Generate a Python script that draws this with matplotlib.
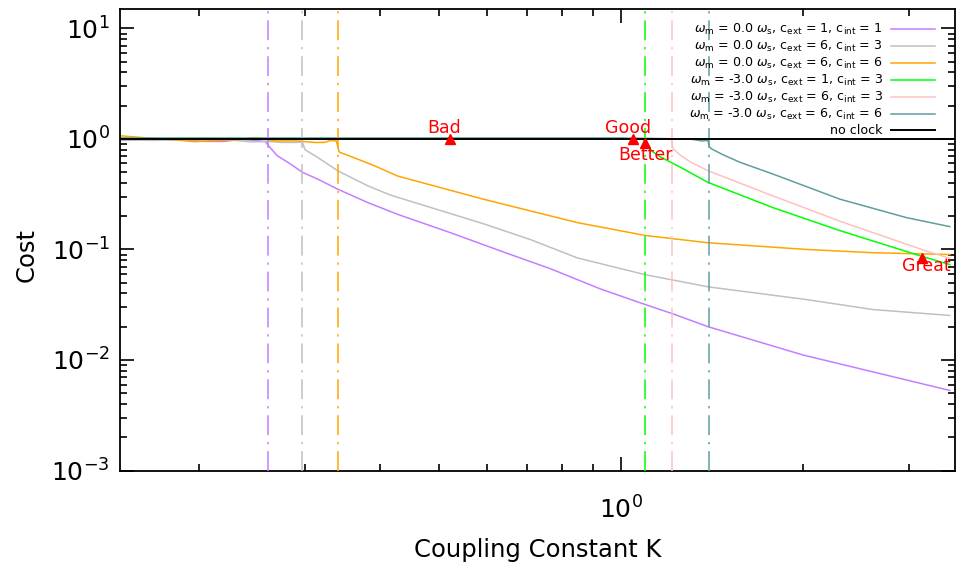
import matplotlib
matplotlib.use("Agg")
import matplotlib.pyplot as plt
from matplotlib.ticker import LogLocator, NullFormatter

# --- cost vs coupling constant for each clock configuration ---
K_m0_c1_1 = [0.148, 0.17, 0.19, 0.205, 0.22, 0.235, 0.25, 0.258, 0.262, 0.270, 0.284,
             0.297, 0.315, 0.340, 0.381, 0.427, 0.522, 0.632, 0.764, 0.924, 1.096,
             1.215, 1.394, 2.0, 3.0, 3.5]
cost_m0_c1_1 = [0.97, 0.98, 0.985, 0.95, 0.95, 0.99, 0.97, 0.945, 0.85, 0.705, 0.593,
                0.50, 0.433, 0.351, 0.266, 0.208, 0.142, 0.097, 0.067, 0.044, 0.0318,
                0.0263, 0.020, 0.0111, 0.0065, 0.0053]

K_m0_c6_3 = [0.148, 0.17, 0.19, 0.21, 0.23, 0.245, 0.26, 0.275, 0.29, 0.297, 0.300,
             0.315, 0.340, 0.381, 0.416, 0.592, 0.708, 0.847, 1.096, 1.206, 1.394,
             2.03, 2.61, 3.5]
cost_m0_c6_3 = [0.98, 0.97, 0.99, 0.98, 0.97, 0.94, 0.95, 0.93, 0.93, 0.94, 0.80,
                0.68, 0.515, 0.377, 0.31, 0.171, 0.123, 0.0839, 0.0592, 0.0535, 0.0459,
                0.0352, 0.0286, 0.0253]

K_m0_c6_6 = [0.148, 0.165, 0.18, 0.197, 0.215, 0.235, 0.247, 0.258, 0.2685, 0.2915,
             0.311, 0.323, 0.331, 0.338, 0.342, 0.366, 0.393, 0.427, 0.592, 0.847,
             1.096, 1.394, 2.03, 2.61, 3.5]
cost_m0_c6_6 = [1.07, 1.02, 0.99, 0.945, 0.97, 0.99, 1.03, 0.99, 0.96, 0.96,
                0.93, 0.93, 0.97, 0.96, 0.76, 0.66, 0.565, 0.462, 0.285, 0.175,
                0.134, 0.115, 0.100, 0.0935, 0.090]

K_m3_c1_3 = [0.148, 0.3, 0.5, 0.8, 1.0, 1.09, 1.10, 1.131, 1.161, 1.25, 1.394,
             1.785, 2.304, 3.145, 3.5]
cost_m3_c1_3 = [1.01, 1.01, 1.01, 1.01, 1.01, 0.99, 0.88, 0.76, 0.69, 0.56, 0.404,
                0.239, 0.148, 0.0868, 0.073]

K_m3_c6_3 = [0.148, 0.5, 1.0, 1.20, 1.214, 1.216, 1.221, 1.253, 1.302, 1.394,
             1.785, 2.304, 3.145, 3.5]
cost_m3_c6_3 = [1.0, 1.0, 1.0, 1.0, 0.98, 0.87, 0.81, 0.715, 0.62, 0.515,
                0.305, 0.18, 0.10, 0.083]

K_m3_c6_6 = [0.148, 0.5, 1.0, 1.30, 1.36, 1.392, 1.396, 1.40, 1.414, 1.475, 1.575,
             1.785, 2.304, 2.97, 3.5]
cost_m3_c6_6 = [1.02, 1.02, 1.02, 1.0, 0.96, 0.97, 0.92, 0.85, 0.81, 0.72, 0.614,
                0.481, 0.285, 0.194, 0.161]

K_noclock = [0.148, 3.57]
cost_noclock = [1.0, 1.0]

# critical coupling of each configuration (vertical markers)
K_crit = [0.261, 0.297, 0.340, 1.096, 1.215, 1.396]

series_labels = [
    r"$\omega_\mathrm{m}$ = 0.0 $\omega_\mathrm{s}$, $\mathrm{c}_\mathrm{ext}$ = 1, $\mathrm{c}_\mathrm{int}$ = 1",
    r"$\omega_\mathrm{m}$ = 0.0 $\omega_\mathrm{s}$, $\mathrm{c}_\mathrm{ext}$ = 6, $\mathrm{c}_\mathrm{int}$ = 3",
    r"$\omega_\mathrm{m}$ = 0.0 $\omega_\mathrm{s}$, $\mathrm{c}_\mathrm{ext}$ = 6, $\mathrm{c}_\mathrm{int}$ = 6",
    r"$\omega_\mathrm{m}$ = -3.0 $\omega_\mathrm{s}$, $\mathrm{c}_\mathrm{ext}$ = 1, $\mathrm{c}_\mathrm{int}$ = 3",
    r"$\omega_\mathrm{m}$ = -3.0 $\omega_\mathrm{s}$, $\mathrm{c}_\mathrm{ext}$ = 6, $\mathrm{c}_\mathrm{int}$ = 3",
    r"$\omega_\mathrm{m}$ = -3.0 $\omega_\mathrm{s}$, $\mathrm{c}_\mathrm{ext}$ = 6, $\mathrm{c}_\mathrm{int}$ = 6",
]
noclock_label = "no clock"

# highlighted operating points
point_names = ["Bad", "Good", "Better", "Great"]
point_K = [0.521, 1.045, 1.096, 3.145]
point_cost = [1.0, 1.0, 0.92, 0.084]

colors = ["#c080ff", "#c0c0c0", "#ffa500", "#00ff00", "#ffc0c0", "#5f9ea0"]

fig = plt.figure(figsize=(9.59, 5.69), dpi=100)
W, H = 959, 569
ax_l, ax_r, ax_t, ax_b = 119.5, 955, 9, 470.5
ax = fig.add_axes([ax_l / W, 1 - ax_b / H, (ax_r - ax_l) / W, (ax_b - ax_t) / H])

curves = [(K_m0_c1_1, cost_m0_c1_1), (K_m0_c6_3, cost_m0_c6_3), (K_m0_c6_6, cost_m0_c6_6),
          (K_m3_c1_3, cost_m3_c1_3), (K_m3_c6_3, cost_m3_c6_3), (K_m3_c6_6, cost_m3_c6_6)]

handles = []
for (k, c), col, lab in zip(curves, colors, series_labels):
    h, = ax.plot(k, c, color=col, lw=1.1, label=lab, zorder=2)
    handles.append(h)

dashdot = (0, (13, 4.5, 1.5, 4.5))
for kc, col in zip(K_crit, colors):
    ax.axvline(kc, color=col, lw=1.1, linestyle=dashdot, zorder=3)

h_nc, = ax.plot(K_noclock, cost_noclock, color="black", lw=1.4, label=noclock_label, zorder=4)
handles.append(h_nc)

ax.plot(point_K, point_cost, linestyle="none", marker="^", color="red",
        markersize=7, zorder=5)
offsets = {"Bad": ((-4, 4), "baseline"), "Good": ((-3.5, 4), "baseline"),
           "Better": ((0, -2.5), "top"), "Great": ((3.5, 0.5), "top")}
for name, k, c in zip(point_names, point_K, point_cost):
    off, va = offsets[name]
    ax.annotate(name, (k, c), xytext=off, textcoords="offset points",
                ha="center", va=va, color="red", fontsize=12.5, zorder=6)

ax.set_xscale("log")
ax.set_yscale("log")
ax.set_xlim(0.148, 3.57)
ax.set_ylim(1e-3, 15)

for axis in (ax.xaxis, ax.yaxis):
    axis.set_major_locator(LogLocator(base=10, numticks=20))
    axis.set_minor_locator(LogLocator(base=10, subs=range(2, 10), numticks=20))
    axis.set_minor_formatter(NullFormatter())

ax.tick_params(which="both", direction="in", top=True, right=True, width=1.2, color="black")
ax.tick_params(which="major", length=10)
ax.tick_params(which="minor", length=5)
ax.tick_params(axis="x", which="major", labelsize=18, pad=19)
ax.tick_params(axis="y", which="major", labelsize=18, pad=7)
for sp in ax.spines.values():
    sp.set_linewidth(1.3)

fig.text(538 / W, 1 - 550 / H, "Coupling Constant K", ha="center", va="center", fontsize=17.5)
fig.text(27 / W, 1 - 255 / H, "Cost", ha="center", va="center", rotation=90, fontsize=17.5)

fig.legend(handles=handles, loc="upper right", bbox_to_anchor=(935 / W, 1 - 22 / H),
           frameon=False, fontsize=9.1, markerfirst=False, handlelength=3.45,
           handletextpad=0.7, labelspacing=0.15, borderpad=0, borderaxespad=0)

fig.savefig("out.png", dpi=100)
